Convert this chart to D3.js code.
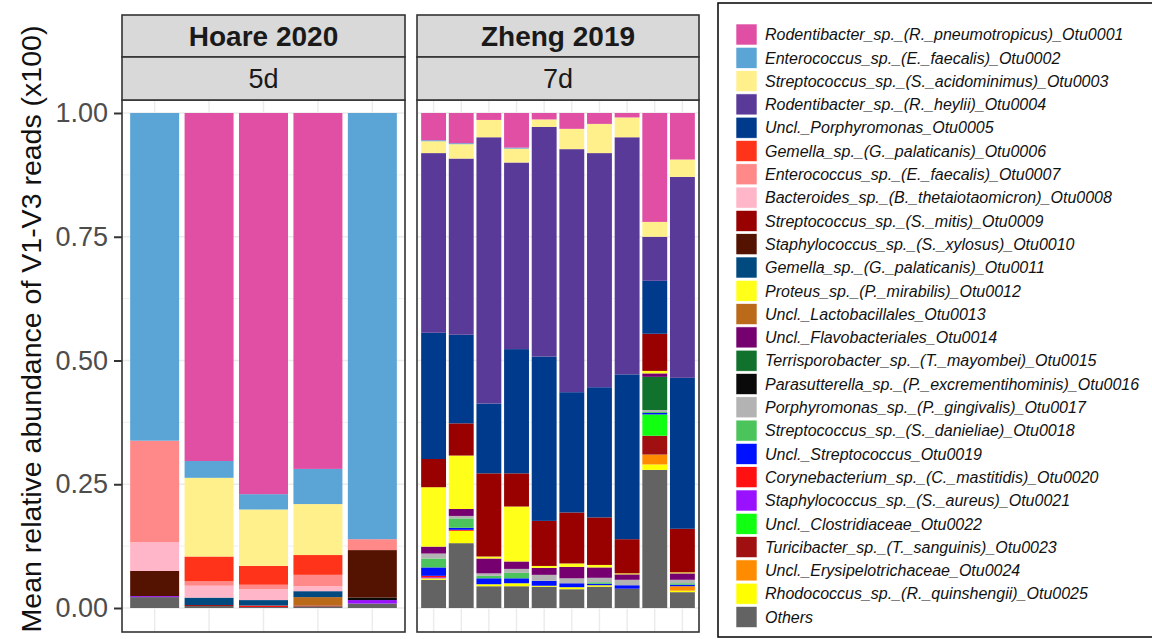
<!DOCTYPE html>
<html>
<head>
<meta charset="utf-8">
<script src="https://cdn.jsdelivr.net/npm/d3@7"></script>
<style>
  html, body { margin: 0; padding: 0; background: #fff; }
  svg { display: block; font-family: "Liberation Sans", Arial, sans-serif; }
</style>
</head>
<body>
<div id="chart"></div>
<script>
// legend order = stacking order (first at top of each bar)
const otus = [
  'Rodentibacter_sp._(R._pneumotropicus)_Otu0001',
  'Enterococcus_sp._(E._faecalis)_Otu0002',
  'Streptococcus_sp._(S._acidominimus)_Otu0003',
  'Rodentibacter_sp._(R._heylii)_Otu0004',
  'Uncl._Porphyromonas_Otu0005',
  'Gemella_sp._(G._palaticanis)_Otu0006',
  'Enterococcus_sp._(E._faecalis)_Otu0007',
  'Bacteroides_sp._(B._thetaiotaomicron)_Otu0008',
  'Streptococcus_sp._(S._mitis)_Otu0009',
  'Staphylococcus_sp._(S._xylosus)_Otu0010',
  'Gemella_sp._(G._palaticanis)_Otu0011',
  'Proteus_sp._(P._mirabilis)_Otu0012',
  'Uncl._Lactobacillales_Otu0013',
  'Uncl._Flavobacteriales_Otu0014',
  'Terrisporobacter_sp._(T._mayombei)_Otu0015',
  'Parasutterella_sp._(P._excrementihominis)_Otu0016',
  'Porphyromonas_sp._(P._gingivalis)_Otu0017',
  'Streptococcus_sp._(S._danieliae)_Otu0018',
  'Uncl._Streptococcus_Otu0019',
  'Corynebacterium_sp._(C._mastitidis)_Otu0020',
  'Staphylococcus_sp._(S._aureus)_Otu0021',
  'Uncl._Clostridiaceae_Otu0022',
  'Turicibacter_sp._(T._sanguinis)_Otu0023',
  'Uncl._Erysipelotrichaceae_Otu0024',
  'Rhodococcus_sp._(R._quinshengii)_Otu0025',
  'Others'
];

const otuColors = [
  '#e04fa4', '#5aa4d6', '#fff08c', '#5a3a99', '#003a8c', '#ff3319',
  '#ff8888', '#ffb6c8', '#990000', '#541200', '#004a80', '#ffff1a',
  '#bb6a1a', '#770070', '#11722e', '#0a0a0a', '#b3b3b3', '#4cc45c',
  '#0011ff', '#ff1111', '#9911ff', '#11ff11', '#a01010', '#ff8c00',
  '#ffff00', '#636363'
];

const studies = ['Hoare 2020', 'Zheng 2019'];
const timepoints = ['5d', '7d'];
const yTicks = [0, 0.25, 0.5, 0.75, 1];

// one row per sample, values in legend order
const hoare2020 = [
  [0, .662, 0, 0, 0, 0, .205, .058, 0, .051, 0, 0, 0, 0, 0, 0, 0, 0, 0, 0, .002, 0, 0, 0, 0, .022],
  [.703, .034, .159, 0, 0, .050, .009, .024, 0, 0, .015, 0, 0, 0, 0, 0, 0, 0, 0, 0, 0, 0, .002, 0, 0, .004],
  [.770, .031, .114, 0, 0, .038, .009, .022, 0, 0, .011, 0, 0, 0, 0, 0, 0, 0, 0, .003, 0, 0, 0, 0, 0, .002],
  [.719, .071, .103, 0, 0, .040, .023, .010, 0, 0, .012, 0, .017, 0, 0, 0, 0, 0, 0, 0, 0, 0, .002, 0, 0, .003],
  [0, .861, 0, 0, 0, 0, .022, 0, 0, .096, 0, 0, 0, 0, 0, .005, 0, 0, 0, 0, .007, 0, 0, 0, 0, .009]
];

const zheng2019 = [
  [.055, .002, .024, .363, .255, 0, 0, 0, .057, 0, 0, .120, 0, .014, 0, 0, .010, .018, .017, .003, .002, 0, 0, 0, .003, .057],
  [.061, .002, .029, .356, .179, 0, 0, 0, .065, 0, 0, .108, 0, .014, 0, 0, .005, .019, .004, .002, 0, 0, 0, 0, .025, .131],
  [.014, 0, .035, .538, .141, 0, 0, 0, .168, 0, 0, .004, 0, .030, 0, 0, .005, .005, .012, 0, 0, 0, 0, 0, .004, .044],
  [.070, .002, .028, .377, .251, 0, 0, 0, .067, 0, 0, .111, 0, .015, 0, 0, .008, .011, .010, 0, 0, 0, 0, 0, .006, .044],
  [.013, 0, .015, .464, .332, 0, 0, 0, .091, 0, 0, .004, 0, .014, 0, 0, .012, 0, .010, 0, 0, 0, 0, 0, .002, .043],
  [.032, 0, .041, .491, .243, 0, 0, 0, .103, 0, 0, .007, 0, .023, 0, 0, .010, 0, .008, 0, 0, 0, 0, 0, .004, .038],
  [.022, 0, .059, .473, .263, 0, 0, 0, .096, 0, 0, .005, 0, .021, 0, 0, .009, .003, .003, 0, 0, 0, 0, 0, .003, .043],
  [.009, 0, .040, .479, .333, 0, 0, 0, .069, 0, 0, .002, 0, .011, 0, 0, .011, 0, .007, 0, 0, 0, 0, 0, 0, .039],
  [.220, 0, .030, .089, .107, 0, 0, 0, .075, 0, 0, .005, 0, .007, .067, 0, .004, .002, .003, 0, 0, .043, .038, .020, .011, .279],
  [.094, 0, .035, .406, .305, 0, 0, 0, .088, 0, 0, .002, 0, .013, 0, 0, .007, .003, .003, 0, 0, 0, 0, .009, .003, .032]
];

const width = 1152, height = 639;
const panels = [
  { study: studies[0], time: timepoints[0], rows: hoare2020, x0: 122, x1: 405 },
  { study: studies[1], time: timepoints[1], rows: zheng2019, x0: 417, x1: 699 }
];
const stripTop = 15, stripMid = 57, panelTop = 100, panelBottom = 632;

const color = d3.scaleOrdinal().domain(otus).range(otuColors);
const y = d3.scaleLinear().domain([0, 1]).range([608, 113]);

// Others at the bottom, Otu0001 on top
const stack = d3.stack().keys(d3.range(otus.length).reverse());

const svg = d3.select('#chart').append('svg')
  .attr('width', width)
  .attr('height', height);

panels.forEach(p => {
  const names = p.rows.map((r, i) => `${p.study}-${i + 1}`);
  const x = d3.scaleBand()
    .domain(names)
    .range([p.x0, p.x1])
    .paddingInner(0.1)
    .paddingOuter(0.15);

  const g = svg.append('g');

  // panel background + grid
  g.append('rect')
    .attr('x', p.x0).attr('y', panelTop)
    .attr('width', p.x1 - p.x0).attr('height', panelBottom - panelTop)
    .attr('fill', '#fff');

  g.append('g')
    .selectAll('line')
    .data(d3.range(0, 1.001, 0.125))
    .join('line')
    .attr('x1', p.x0).attr('x2', p.x1)
    .attr('y1', d => y(d)).attr('y2', d => y(d))
    .attr('stroke', '#ebebeb')
    .attr('stroke-width', (d, i) => i % 2 ? 0.8 : 1.4);

  g.append('g')
    .selectAll('line')
    .data(names)
    .join('line')
    .attr('x1', d => x(d) + x.bandwidth() / 2).attr('x2', d => x(d) + x.bandwidth() / 2)
    .attr('y1', panelTop).attr('y2', panelBottom)
    .attr('stroke', '#ebebeb')
    .attr('stroke-width', 1.4);

  // stacked bars
  const rows = p.rows.map((r, i) => Object.assign({ name: names[i] }, r));
  g.append('g')
    .selectAll('g')
    .data(stack(rows))
    .join('g')
    .attr('fill', s => otuColors[s.key])
    .selectAll('rect')
    .data(s => s.filter(d => d[1] - d[0] > 0))
    .join('rect')
    .attr('x', d => x(d.data.name))
    .attr('width', x.bandwidth())
    .attr('y', d => y(d[1]))
    .attr('height', d => y(d[0]) - y(d[1]));

  // panel border
  g.append('rect')
    .attr('x', p.x0).attr('y', panelTop)
    .attr('width', p.x1 - p.x0).attr('height', panelBottom - panelTop)
    .attr('fill', 'none')
    .attr('stroke', '#333')
    .attr('stroke-width', 1.6);

  // strips
  [[stripTop, stripMid, p.study, 'bold', 28], [stripMid, panelTop, p.time, 'normal', 27]].forEach(([t, b, label, weight, size]) => {
    g.append('rect')
      .attr('x', p.x0).attr('y', t)
      .attr('width', p.x1 - p.x0).attr('height', b - t)
      .attr('fill', '#d9d9d9')
      .attr('stroke', '#333')
      .attr('stroke-width', 1.6);
    g.append('text')
      .attr('x', (p.x0 + p.x1) / 2)
      .attr('y', (t + b) / 2)
      .attr('dy', '0.36em')
      .attr('text-anchor', 'middle')
      .attr('font-size', size)
      .attr('font-weight', weight)
      .attr('fill', '#1a1a1a')
      .text(label);
  });
});

// y axis
svg.append('g')
  .attr('transform', `translate(${panels[0].x0},0)`)
  .call(d3.axisLeft(y).tickValues(yTicks).tickFormat(d3.format('.2f')).tickSize(8).tickPadding(6))
  .call(g => g.select('.domain').remove())
  .call(g => g.selectAll('.tick line').attr('stroke', '#333').attr('stroke-width', 2))
  .call(g => g.selectAll('.tick text')
    .attr('font-size', 27)
    .attr('font-family', '"Liberation Sans", Arial, sans-serif')
    .attr('fill', '#4d4d4d'));

svg.append('text')
  .attr('transform', `translate(31,${(24 + 634) / 2}) rotate(-90)`)
  .attr('text-anchor', 'middle')
  .attr('dy', '0.36em')
  .attr('font-size', 28.5)
  .attr('fill', '#111')
  .text('Mean relative abundance of V1-V3 reads (x100)');

// legend
const legend = svg.append('g');
legend.append('rect')
  .attr('x', 718).attr('y', 3)
  .attr('width', 460).attr('height', 634)
  .attr('fill', '#fff')
  .attr('stroke', '#111')
  .attr('stroke-width', 1.6);

const ly = d3.scalePoint().domain(otus).range([34.5, 617]);
const item = legend.selectAll('g.item')
  .data(otus)
  .join('g')
  .attr('class', 'item')
  .attr('transform', d => `translate(736,${ly(d)})`);

item.append('rect')
  .attr('x', 0).attr('y', -10.5)
  .attr('width', 21).attr('height', 21)
  .attr('fill', d => color(d))
  .attr('stroke', '#fff')
  .attr('stroke-width', 0.6);

item.append('text')
  .attr('x', 29)
  .attr('dy', '0.36em')
  .attr('font-size', 16)
  .attr('font-style', 'italic')
  .attr('fill', '#111')
  .text(d => d);
</script>
</body>
</html>
